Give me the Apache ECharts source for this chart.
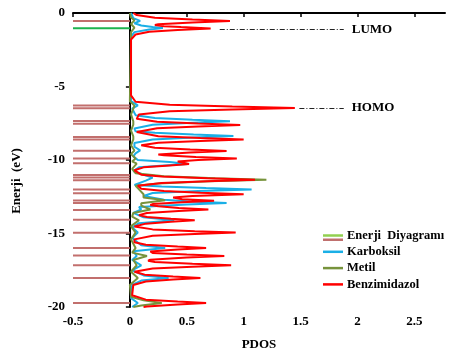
<!DOCTYPE html>
<html><head><meta charset="utf-8">
<script src="https://cdn.jsdelivr.net/npm/echarts@6/dist/echarts.min.js"></script>
<style>html,body{margin:0;padding:0;background:#fff}#c{width:449px;height:356px}</style>
</head><body><div id="c"></div>
<script>
// Energy levels (eV)
const levelE = [-0.54, -6.3, -6.48, -7.35, -7.53, -8.43, -8.61, -9.37, -9.9, -10.22, -11.02, -11.19, -11.37, -12.0, -12.27, -12.75, -12.93, -13.4, -14.07, -14.95, -15.99, -16.5, -17.16, -18.02, -19.73];
const lumoE = [-1.04];

// Benzimidazol PDOS (energy, value)
const benzE = [0,-0.14,-0.32,-0.44,-0.54,-0.64,-0.76,-0.82,-0.9,-0.96,-1.06,-1.16,-1.28,-1.46,-1.8,-5.6,-6.04,-6.24,-6.36,-6.46,-6.56,-6.68,-6.9,-7.2,-7.4,-7.52,-7.62,-7.72,-7.84,-8.1,-8.39,-8.51,-8.61,-8.71,-8.83,-9.0,-9.17,-9.29,-9.39,-9.49,-9.62,-9.68,-9.8,-9.9,-10.0,-10.1,-10.27,-10.37,-10.5,-10.7,-11.0,-11.12,-11.24,-11.34,-11.44,-11.56,-11.75,-11.95,-12.11,-12.23,-12.33,-12.45,-12.55,-12.67,-12.77,-12.87,-13.0,-13.06,-13.15,-13.27,-13.37,-13.47,-13.6,-13.75,-13.88,-14.0,-14.1,-14.2,-14.33,-14.52,-14.72,-14.84,-14.94,-15.04,-15.16,-15.4,-15.6,-15.77,-15.89,-15.99,-16.09,-16.22,-16.28,-16.32,-16.43,-16.53,-16.63,-16.78,-16.85,-16.94,-17.06,-17.16,-17.26,-17.38,-17.6,-17.8,-17.93,-18.03,-18.13,-18.26,-18.5,-19.2,-19.5,-19.63,-19.73,-19.83,-19.96,-20];
const benzV = [0.03,0.06,0.22,0.55,0.88,0.55,0.25,0.22,0.3,0.45,0.71,0.42,0.17,0.05,0.01,0.01,0.05,0.35,0.9,1.45,0.9,0.35,0.08,0.06,0.24,0.6,0.97,0.6,0.24,0.06,0.25,0.62,1.0,0.62,0.25,0.1,0.22,0.53,0.85,0.53,0.25,0.3,0.58,0.94,0.6,0.42,0.52,0.35,0.12,0.04,0.1,0.28,0.68,1.10,0.68,0.28,0.07,0.1,0.3,0.62,1.0,0.55,0.38,0.46,0.74,0.46,0.2,0.18,0.25,0.43,0.69,0.43,0.15,0.08,0.15,0.36,0.57,0.36,0.14,0.04,0.2,0.57,0.93,0.57,0.2,0.04,0.04,0.14,0.42,0.67,0.42,0.18,0.17,0.2,0.5,0.83,0.5,0.18,0.16,0.22,0.55,0.89,0.55,0.2,0.04,0.13,0.38,0.62,0.38,0.14,0.03,0.02,0.14,0.42,0.67,0.42,0.15,0.12];

// Karboksil PDOS
const karbE = [0,-0.35,-0.54,-0.7,-0.85,-0.95,-1.02,-1.12,-1.3,-1.6,-6.0,-6.28,-6.5,-6.95,-7.15,-7.27,-7.37,-7.47,-7.6,-7.85,-8.05,-8.15,-8.27,-8.37,-8.47,-8.6,-8.85,-9.1,-9.35,-9.55,-9.75,-10.0,-10.14,-10.27,-10.37,-10.5,-10.75,-11.0,-11.2,-11.4,-11.7,-11.8,-11.91,-12.01,-12.11,-12.25,-12.45,-12.7,-12.83,-12.93,-13.03,-13.2,-13.37,-13.6,-13.9,-14.1,-14.3,-14.6,-14.94,-15.3,-15.8,-15.99,-16.2,-16.53,-16.8,-17.16,-17.5,-17.85,-18.03,-18.2,-18.5,-19.4,-19.73,-20];
const karbV = [0.01,0.03,0.09,0.04,0.1,0.2,0.29,0.17,0.04,0.01,0.01,0.07,0.02,0.05,0.22,0.55,0.88,0.55,0.2,0.04,0.05,0.22,0.56,0.91,0.56,0.2,0.04,0.04,0.09,0.05,0.03,0.07,0.35,0.51,0.3,0.08,0.03,0.12,0.2,0.14,0.04,0.28,0.67,1.07,0.6,0.2,0.12,0.3,0.53,0.85,0.5,0.08,0.1,0.03,0.12,0.39,0.08,0.02,0.07,0.02,0.1,0.31,0.03,0.06,0.02,0.1,0.02,0.12,0.34,0.1,0.02,0.01,0.07,0.02];

// Metil PDOS
const metE = [0,-0.3,-0.5,-0.75,-1.0,-1.3,-6.0,-6.3,-6.5,-6.9,-7.37,-7.6,-8.0,-8.4,-8.6,-9.0,-9.35,-9.6,-9.9,-10.1,-10.25,-10.6,-10.9,-11.1,-11.24,-11.34,-11.44,-11.6,-11.75,-12.0,-12.33,-12.55,-12.74,-12.95,-13.1,-13.37,-13.6,-13.85,-14.1,-14.5,-14.94,-15.4,-15.99,-16.3,-16.53,-16.8,-17.16,-17.6,-18.03,-18.5,-19.3,-19.55,-19.73,-19.9,-20];
const metV = [0.0,0.01,0.04,0.01,0.04,0.01,0.0,0.04,0.03,0.01,0.03,0.03,0.01,0.03,0.03,0.01,0.04,0.01,0.05,0.02,0.06,0.02,0.05,0.3,0.75,1.2,0.7,0.25,0.05,0.08,0.12,0.12,0.31,0.1,0.1,0.18,0.03,0.02,0.08,0.01,0.05,0.01,0.05,0.02,0.15,0.03,0.06,0.01,0.07,0.0,0.01,0.12,0.28,0.1,0.03];

const xTicks = [-0.5, 0, 0.5, 1, 1.5, 2, 2.5];

const pairs = (E, V) => E.map((e, i) => [V[i], e]);
const levelData = [];
levelE.forEach(e => { levelData.push([-0.5, e], [0, e], ['-', '-']); });
const lumoData = [];
lumoE.forEach(e => { lumoData.push([-0.5, e], [0, e], ['-', '-']); });

const font = 'Liberation Serif, Times New Roman, serif';
const chart = echarts.init(document.getElementById('c'));
chart.setOption({
  animation: false,
  backgroundColor: '#fff',
  grid: { left: 73, right: 4, top: 13, bottom: 49, containLabel: false },
  xAxis: {
    type: 'value', min: -0.5, max: 2.77,
    name: 'PDOS', nameLocation: 'middle', nameGap: 31,
    nameTextStyle: { fontFamily: font, fontWeight: 'bold', fontSize: 13, color: '#000' },
    axisLine: { show: true, lineStyle: { color: '#000', width: 2 } },
    axisTick: { show: true, length: 4, customValues: xTicks, lineStyle: { color: '#000', width: 1.5 } },
    axisLabel: { customValues: xTicks, margin: 8, fontFamily: font, fontWeight: 'bold', fontSize: 13, color: '#000' },
    splitLine: { show: false }
  },
  yAxis: {
    type: 'value', min: -20, max: 0, interval: 5,
    name: 'Enerji  (eV)', nameLocation: 'middle', nameGap: 50, nameRotate: 90,
    nameTextStyle: { fontFamily: font, fontWeight: 'bold', fontSize: 13, color: '#000', padding: [0, 42, 0, 0] },
    axisLine: { show: true, lineStyle: { color: '#000', width: 2 } },
    axisTick: { show: true, length: 4, lineStyle: { color: '#000', width: 1.5 } },
    axisLabel: { margin: 8, fontFamily: font, fontWeight: 'bold', fontSize: 13, color: '#000' },
    splitLine: { show: false }
  },
  legend: {
    orient: 'vertical', left: 323, top: 228, itemGap: 1.3, padding: 0,
    itemWidth: 20, itemHeight: 2.5, icon: 'rect',
    textStyle: { fontFamily: font, fontWeight: 'bold', fontSize: 12.5, color: '#000', lineHeight: 15, padding: [0,0,0,-1] },
    data: ['Enerji  Diyagramı', 'Karboksil', 'Metil', 'Benzimidazol']
  },
  graphic: [
    { type: 'rect', left: 323, top: 238.5, shape: { width: 20, height: 2.5 }, style: { fill: '#c0706e' } }
  ],
  series: [
    { name: 'Energy levels', type: 'line', data: levelData, symbol: 'none', connectNulls: false,
      lineStyle: { color: '#c26f6d', width: 2 }, itemStyle: { color: '#c0706e' }, z: 1 },
    { name: 'Enerji  Diyagramı', type: 'line', data: lumoData, symbol: 'none', connectNulls: false,
      lineStyle: { color: '#1db34f', width: 2 }, itemStyle: { color: '#92d050' }, z: 1 },
    { name: 'Karboksil', type: 'line', data: pairs(karbE, karbV), symbol: 'none',
      lineStyle: { color: '#1aafe6', width: 2 }, itemStyle: { color: '#1aafe6' }, z: 2 },
    { name: 'Metil', type: 'line', data: pairs(metE, metV), symbol: 'none',
      lineStyle: { color: '#77933c', width: 2 }, itemStyle: { color: '#77933c' }, z: 3 },
    { name: 'Benzimidazol', type: 'line', data: pairs(benzE, benzV), symbol: 'none',
      lineStyle: { color: '#ff0000', width: 2 }, itemStyle: { color: '#ff0000' }, z: 4,
      markLine: {
        silent: true, symbol: ['none', 'arrow'], symbolSize: [0, 8], animation: false,
        lineStyle: { color: '#222', width: 1, type: [5, 2, 1, 2] },
        label: { show: true, position: 'end', distance: 8, formatter: p => p.name,
          fontFamily: font, fontWeight: 'bold', fontSize: 13, color: '#000' },
        data: [
          [{ name: 'LUMO', coord: [0.79, -1.13] }, { coord: [1.88, -1.13] }],
          [{ name: 'HOMO', coord: [1.49, -6.47] }, { coord: [1.88, -6.47] }]
        ]
      }
    }
  ]
});
</script>
</body></html>
